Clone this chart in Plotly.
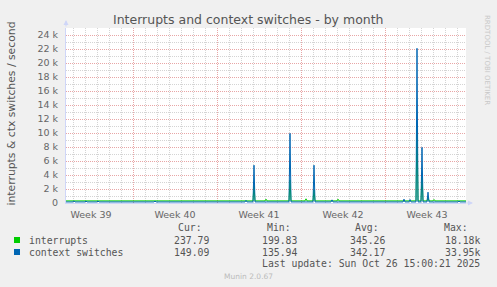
import plotly.graph_objects as go

# ---------------- data ----------------
times = [
    "2025-09-23 10:00", "2025-09-24 00:00", "2025-09-24 02:00", "2025-09-24 04:00",
    "2025-09-25 00:00", "2025-09-25 02:00", "2025-09-25 04:00",
    "2025-09-26 00:00", "2025-09-26 02:00", "2025-09-26 04:00",
    "2025-09-30 18:00", "2025-09-30 20:00", "2025-09-30 22:00",
    "2025-10-08 08:00", "2025-10-08 10:00", "2025-10-08 12:00",
    "2025-10-09 00:00", "2025-10-09 02:00", "2025-10-09 04:00",
    "2025-10-10 00:00", "2025-10-10 02:00", "2025-10-10 04:00",
    "2025-10-12 00:00", "2025-10-12 02:00", "2025-10-12 04:00",
    "2025-10-13 08:00", "2025-10-13 10:00", "2025-10-13 12:00",
    "2025-10-14 00:00", "2025-10-14 02:00", "2025-10-14 04:00",
    "2025-10-15 12:00", "2025-10-15 14:00", "2025-10-15 16:00",
    "2025-10-16 00:00", "2025-10-16 02:00", "2025-10-16 04:00",
    "2025-10-21 12:00", "2025-10-21 14:00", "2025-10-21 16:00",
    "2025-10-22 00:00", "2025-10-22 02:00", "2025-10-22 04:00",
    "2025-10-22 14:00", "2025-10-22 16:00", "2025-10-22 18:00",
    "2025-10-23 00:00", "2025-10-23 02:00", "2025-10-23 04:00",
    "2025-10-23 12:00", "2025-10-23 14:00", "2025-10-23 16:00",
    "2025-10-24 00:00", "2025-10-24 02:00", "2025-10-24 04:00",
    "2025-10-26 02:00", "2025-10-26 04:00", "2025-10-26 06:00",
    "2025-10-26 18:00",
]
interrupts = [
    300, 300, 300, 300,
    300, 300, 300,
    300, 300, 300,
    300, 300, 300,
    300, 300, 300,
    300, 2500, 300,
    300, 550, 300,
    300, 3300, 300,
    300, 600, 300,
    300, 1900, 300,
    300, 320, 300,
    300, 550, 300,
    300, 350, 300,
    300, 350, 300,
    300, 11000, 300,
    300, 4000, 300,
    300, 800, 300,
    300, 500, 300,
    300, 300, 300,
    300,
]
context_switches = [
    150, 150, 300, 150,
    150, 280, 150,
    150, 280, 150,
    150, 280, 150,
    150, 380, 150,
    150, 5400, 150,
    150, 160, 150,
    150, 9950, 150,
    150, 160, 150,
    150, 5400, 150,
    150, 450, 150,
    150, 160, 150,
    150, 550, 150,
    150, 500, 150,
    150, 22100, 150,
    150, 7950, 150,
    150, 1550, 150,
    150, 160, 150,
    150, 260, 150,
    150,
]
x_start, x_end = "2025-09-23 10:00", "2025-10-26 18:00"
week_labels = ["Week 39", "Week 40", "Week 41", "Week 42", "Week 43"]
week_label_pos = ["2025-09-25 12:00", "2025-10-02 12:00", "2025-10-09 12:00",
                  "2025-10-16 12:00", "2025-10-23 12:00"]
week_starts = ["2025-09-29", "2025-10-06", "2025-10-13", "2025-10-20"]
y_ticks = list(range(0, 24001, 2000))
y_ticktext = ["0"] + [f"{v // 1000} k" for v in y_ticks[1:]]

series_names = ["interrupts", "context switches"]
series_colors = ["#00CC00", "#0066B3"]
stat_headers = ["Cur:", "Min:", "Avg:", "Max:"]
stats = [
    ["237.79", "199.83", "345.26", "18.18k"],
    ["149.09", "135.94", "342.17", "33.95k"],
]
last_update = "Last update: Sun Oct 26 15:00:21 2025"

# ---------------- layout helpers (pixel -> paper) ----------------
W, H = 497, 287
L, R, T, B = 66, 466, 28, 203


def PX(x):
    return (x - L) / (R - L)


def PY(y):
    return (B - y) / (B - T)


FONT_C = "#555555"
TICK_C = "#666666"
MINOR = "#D4D4D4"
MAJOR = "#E8A6A6"
AXIS_C = "#CFD6F8"
DASH = "1px,1px"

fig = go.Figure()
fig.add_trace(go.Scatter(x=times, y=interrupts, mode="lines", name=series_names[0],
                         line=dict(color=series_colors[0], width=1), xaxis="x", yaxis="y"))
fig.add_trace(go.Scatter(x=times, y=context_switches, mode="lines", name=series_names[1],
                         line=dict(color=series_colors[1], width=1), xaxis="x2", yaxis="y"))

ann = []
ann.append(dict(text="Interrupts and context switches - by month", x=PX(248), y=PY(19),
                xref="paper", yref="paper", showarrow=False, xanchor="center", yanchor="middle",
                font=dict(family="DejaVu Sans", size=12.5, color=FONT_C)))
ann.append(dict(text="interrupts &amp; ctx switches / second", x=PX(10.5), y=PY(114),
                xref="paper", yref="paper", showarrow=False, textangle=-90,
                xanchor="center", yanchor="middle",
                font=dict(family="DejaVu Sans", size=10.8, color=FONT_C)))
ann.append(dict(text="RRDTOOL / TOBI OETIKER", x=PX(487), y=PY(60),
                xref="paper", yref="paper", showarrow=False, textangle=90,
                xanchor="center", yanchor="middle",
                font=dict(family="DejaVu Sans", size=7, color="#C8C8C8")))
ann.append(dict(text="Munin 2.0.67", x=PX(248), y=PY(276),
                xref="paper", yref="paper", showarrow=False, xanchor="center", yanchor="middle",
                font=dict(family="DejaVu Sans", size=7.5, color="#BBBBBB")))

mono = dict(family="DejaVu Sans Mono", size=9.8, color=FONT_C)
hdr_right = [204, 293, 381, 470]
val_right = [211, 299, 387, 482]
for h, xr in zip(stat_headers, hdr_right):
    ann.append(dict(text=h, x=PX(xr), y=PY(227.5), xref="paper", yref="paper",
                    showarrow=False, xanchor="right", yanchor="middle", font=mono))
row_y = [240, 252]
shapes = []
for i, name in enumerate(series_names):
    ann.append(dict(text=name, x=PX(26.5), y=PY(row_y[i]), xref="paper", yref="paper",
                    showarrow=False, xanchor="left", yanchor="middle", font=mono))
    for v, xr in zip(stats[i], val_right):
        ann.append(dict(text=v, x=PX(xr), y=PY(row_y[i]), xref="paper", yref="paper",
                        showarrow=False, xanchor="right", yanchor="middle", font=mono))
    shapes.append(dict(type="rect", xref="paper", yref="paper",
                       x0=PX(14), x1=PX(20), y0=PY(row_y[i] + 3), y1=PY(row_y[i] - 3),
                       fillcolor=series_colors[i], line=dict(width=0)))
ann.append(dict(text=last_update, x=PX(482), y=PY(263.7), xref="paper", yref="paper",
                showarrow=False, xanchor="right", yanchor="middle", font=mono))

# axis arrows
ann.append(dict(text="", x=PX(473), y=0, xref="paper", yref="paper", ax=-8, ay=0,
                axref="pixel", ayref="pixel", showarrow=True, arrowhead=2, arrowsize=1,
                arrowwidth=1, arrowcolor=AXIS_C))
ann.append(dict(text="", x=0, y=PY(20), xref="paper", yref="paper", ax=0, ay=8,
                axref="pixel", ayref="pixel", showarrow=True, arrowhead=2, arrowsize=1,
                arrowwidth=1, arrowcolor=AXIS_C))

fig.update_layout(
    width=W, height=H,
    margin=dict(l=L, r=W - R, t=T, b=H - B, pad=0),
    paper_bgcolor="#F0F0F0", plot_bgcolor="#FFFFFF",
    showlegend=False,
    xaxis=dict(type="date", range=[x_start, x_end], tickmode="array",
               tickvals=week_label_pos, ticktext=week_labels, showgrid=False,
               showline=True, linecolor=AXIS_C, linewidth=1, ticks="", zeroline=False,
               ticklabelstandoff=3,
               tickfont=dict(family="DejaVu Sans", size=9.5, color=TICK_C)),
    xaxis2=dict(type="date", overlaying="x", range=[x_start, x_end], tickmode="array",
                tickvals=week_starts, showticklabels=False, showgrid=True,
                gridcolor=MAJOR, griddash=DASH, gridwidth=1, ticks="", showline=False,
                zeroline=False,
                minor=dict(tickmode="linear", tick0="2025-09-23", dtick=86400000,
                           showgrid=True, gridcolor=MINOR, griddash=DASH, gridwidth=1)),
    yaxis=dict(range=[0, 25000], tickmode="array", tickvals=y_ticks, ticktext=y_ticktext,
               showgrid=True, gridcolor=MAJOR, griddash=DASH, gridwidth=1,
               minor=dict(tickmode="linear", tick0=0, dtick=1000, showgrid=True,
                          gridcolor=MINOR, griddash=DASH, gridwidth=1),
               showline=True, linecolor=AXIS_C, linewidth=1, ticks="", zeroline=False,
               ticklabelstandoff=5,
               tickfont=dict(family="DejaVu Sans", size=9.5, color=TICK_C)),
    annotations=ann, shapes=shapes,
)

fig.write_html("out.html")
